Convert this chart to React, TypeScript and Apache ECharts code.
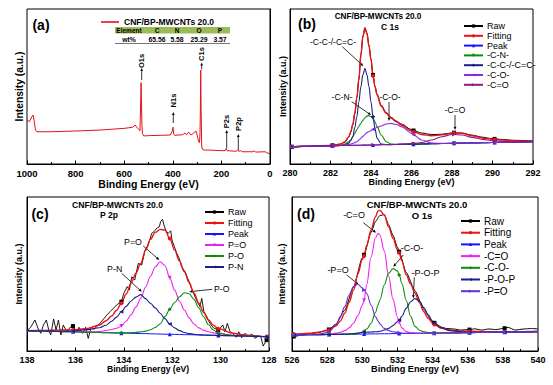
import React, { useEffect, useRef } from "react";
import * as echarts from "echarts";

const FONT = "'Liberation Sans', Arial, Helvetica, sans-serif";

// ---------- (a) survey spectrum ----------
const surveyBE = [1000, 990, 980, 975, 970, 965, 960, 900, 800, 700, 600, 565, 555, 548, 540, 535, 532, 530.5, 529, 527, 525, 520, 500, 450, 410, 402, 399, 396, 392, 360, 350, 343, 335, 325, 315, 305, 300, 295, 290, 288, 286.5, 285, 283.5, 281, 278, 270, 250, 200, 185, 180, 177, 140, 133, 130, 120, 115, 70, 65, 60, 20, 15, 0];
const surveyI = [28.4, 27.3, 30.5, 31.6, 27.3, 21.9, 20.8, 20.8, 21.3, 21.9, 23, 23.7, 25.2, 23.7, 22.4, 21.5, 41.3, 52.5, 40, 25, 19.8, 18.1, 18.3, 18.5, 18.7, 21.3, 23.7, 19.1, 18.5, 18.9, 19.9, 18.9, 20.6, 18.7, 19.9, 21.3, 18.7, 15.5, 13.7, 20, 35, 60.6, 35, 11, 9.5, 9.0, 9.0, 8.6, 8.6, 10.1, 8.6, 8.2, 9.0, 8.2, 8.6, 7.9, 7.9, 8.6, 7.7, 7.9, 7.4, 6.5];
const surveyPeaks = ["O1s", "N1s", "C1s", "P2s", "P2p"];
const tableHead = ["Element", "C", "N", "O", "P"];
const tableRow = ["wt%", "65.56", "5.58", "25.29", "3.57"];

// ---------- (b) C 1s ----------
const bX = [280, 280.1, 281, 282, 282.1, 282.5, 282.7, 282.9, 283, 283.1, 283.2, 283.3, 283.4, 283.5, 283.6, 283.7, 283.8, 283.9, 284, 284.1, 284.2, 284.3, 284.5, 284.75, 285, 285.25, 285.5, 286, 286.1, 286.5, 287, 287.5, 288, 288.1, 288.5, 289, 289.5, 290, 290.1, 291, 292];
const bRaw = [11.0, 11.0, 11.4, 12.0, 12.1, 12.8, 14.0, 17.2, 20.6, 25.2, 32.5, 42.8, 54.8, 70.5, 82.5, 88.0, 84.5, 76.5, 67.5, 57.5, 50, 45, 38, 33.2, 30, 27.7, 25.8, 22.2, 21.6, 20.0, 19.0, 19.2, 20.0, 20.2, 19.9, 18.6, 17.3, 16.3, 16.2, 15.3, 14.9];
const bFit = [11.2, 11.2, 11.5, 12.0, 12.1, 12.9, 14.2, 17.5, 20.8, 25.5, 32.7, 42.5, 54.2, 70, 82, 87.5, 84, 76, 67.1, 57, 49.5, 44.5, 37.4, 32.7, 29.5, 27.2, 25.2, 21.3, 20.7, 19.0, 18.2, 18.8, 19.8, 20.0, 19.8, 18.2, 16.8, 15.9, 15.8, 15.0, 14.6];
const bBase = [11.2, 11.2, 11.5, 11.7, 11.8, 11.9, 11.9, 12.0, 12.0, 12.0, 12.1, 12.1, 12.1, 12.1, 12.2, 12.2, 12.2, 12.2, 12.3, 12.3, 12.3, 12.3, 12.4, 12.5, 12.5, 12.6, 12.7, 12.8, 12.8, 12.9, 13.1, 13.2, 13.3, 13.4, 13.5, 13.6, 13.7, 13.9, 13.9, 14.1, 14.4];
const bCN = [11.2, 11.2, 11.5, 11.7, 11.8, 12.0, 12.9, 14.3, 15.5, 17.5, 19.8, 22.2, 24.4, 26.3, 28.2, 29.8, 30.9, 31.2, 30.6, 29.5, 27, 24.1, 18.7, 14.4, 12.9, 12.6, 12.7, 12.8, 12.8, 12.9, 13.1, 13.2, 13.3, 13.4, 13.5, 13.6, 13.7, 13.9, 13.9, 14.1, 14.4];
const bCC = [11.2, 11.2, 11.5, 11.7, 11.8, 11.9, 12.3, 13.4, 15.2, 17.6, 23.5, 30.5, 40, 49.9, 57.5, 61.7, 57.5, 49.9, 40, 30.5, 22.5, 16.6, 12.9, 12.5, 12.5, 12.6, 12.7, 12.8, 12.8, 12.9, 13.1, 13.2, 13.3, 13.4, 13.5, 13.6, 13.7, 13.9, 13.9, 14.1, 14.4];
const bCO = [11.2, 11.2, 11.5, 11.7, 11.8, 11.9, 12.2, 12.6, 12.9, 13.3, 13.7, 14.4, 15.4, 16.6, 17.8, 19, 20.3, 21, 21.5, 22.4, 23.1, 23.7, 24.5, 25.8, 26.2, 25.5, 24.1, 19.8, 18.9, 15.5, 13.5, 13.3, 13.4, 13.4, 13.5, 13.6, 13.7, 13.9, 13.9, 14.1, 14.4];
const bCdO = [11.2, 11.2, 11.5, 11.7, 11.8, 11.9, 11.9, 12.0, 12.0, 12.0, 12.1, 12.1, 12.1, 12.1, 12.2, 12.2, 12.2, 12.2, 12.3, 12.3, 12.3, 12.3, 12.5, 12.6, 12.6, 12.7, 12.8, 13.2, 13.3, 13.9, 15.5, 17.6, 19.0, 19.1, 18.7, 17.2, 15.9, 15.0, 14.9, 14.3, 14.5];
const bMarks = [280.1, 282.1, 284.1, 286.1, 288.1, 290.1];

// ---------- (c) P 2p ----------
const cRawX = [138, 137.85, 137.67, 137.55, 137.43, 137.32, 137.2, 137.1, 137.02, 136.9, 136.8, 136.7, 136.6, 136.5, 136.35, 136.22, 136.1, 135.95, 135.85, 135.7, 135.58, 135.47, 135.35, 135.23, 135.05, 134.87, 134.7, 134.57, 134.43, 134.3, 134.1, 134.0, 133.86, 133.77, 133.67, 133.55, 133.4, 133.26, 133.12, 132.99, 132.85, 132.75, 132.64, 132.53, 132.48, 132.4, 132.34, 132.26, 132.16, 132.06, 132.01, 131.91, 131.81, 131.71, 131.61, 131.47, 131.33, 131.2, 131.06, 130.96, 130.85, 130.78, 130.69, 130.57, 130.44, 130.3, 130.1, 130.02, 129.91, 129.82, 129.72, 129.61, 129.5, 129.36, 129.25, 129.13, 128.99, 128.86, 128.71, 128.58, 128.44, 128.34, 128.24, 128.1, 128.04];
const cRawY = [13.2, 15.4, 20.1, 14.9, 11.5, 16.9, 20.1, 13.6, 10.4, 20.8, 13.6, 20.1, 10.4, 16.9, 12.5, 15.4, 16.2, 12.5, 15.4, 11.5, 15.4, 8.2, 15.4, 14.1, 16.9, 20.1, 23.4, 25.5, 27.7, 29.9, 32, 37.5, 41.8, 39.6, 48.2, 46.1, 56.9, 55.8, 65.6, 68.8, 76.4, 77.5, 79.7, 80.7, 84, 85.5, 81.8, 78.1, 76.4, 78.1, 72.1, 67.7, 63.4, 60.2, 54.7, 51.5, 46.1, 40.7, 35.3, 32, 28.8, 34.2, 25.5, 22.3, 18, 15.1, 13.6, 14.7, 16.9, 12.5, 18, 12.5, 11.5, 8.9, 12.5, 8.6, 11.5, 9.3, 11, 8.2, 9.7, 9.3, 3.2, 7.1, 9.3];
const cX = [138, 137.5, 137, 136.5, 136.1, 135.5, 135, 134.75, 134.5, 134.3, 134.1, 133.9, 133.7, 133.5, 133.3, 133.1, 132.9, 132.7, 132.5, 132.3, 132.1, 131.9, 131.7, 131.5, 131.3, 131.1, 130.9, 130.7, 130.5, 130.3, 130.1, 129.5, 129, 128.5, 128.1, 128];
const cFit = [13.2, 13.3, 13.5, 13.6, 13.7, 14.6, 16.9, 19.5, 22.7, 26.5, 31, 37, 44, 50.6, 56.9, 65.5, 72.5, 77, 79, 78.5, 73, 65.5, 58.5, 51.5, 44.5, 37.5, 31, 25, 20.1, 16.8, 14.5, 11.5, 10.4, 9.7, 9.3, 9.3];
const cBase = [13.2, 13.0, 12.8, 12.6, 12.5, 12.2, 12.0, 11.9, 11.8, 11.7, 11.6, 11.6, 11.5, 11.4, 11.3, 11.3, 11.2, 11.1, 11.0, 10.9, 10.9, 10.8, 10.7, 10.6, 10.6, 10.5, 10.4, 10.3, 10.2, 10.2, 10.1, 9.9, 9.7, 9.5, 9.3, 9.3];
const cPdO = [13.2, 13.0, 12.8, 12.6, 12.5, 12.4, 12.6, 13.3, 14.0, 14.8, 16.2, 19.5, 23.5, 28.5, 34.2, 41.5, 48.5, 54.5, 58, 55.5, 47.5, 39.5, 32.5, 26.6, 21.5, 17.5, 15, 13.4, 12.5, 11.8, 11.2, 10.2, 9.8, 9.5, 9.3, 9.3];
const cPO = [13.2, 13.0, 12.8, 12.6, 12.5, 12.2, 12.0, 11.9, 11.8, 11.8, 11.8, 11.8, 11.9, 12.1, 12.4, 12.9, 13.8, 15.3, 17.5, 22.3, 27.1, 31.5, 35.2, 37.8, 37.2, 33.5, 28, 22.2, 17, 13.6, 11.6, 10.1, 9.8, 9.5, 9.3, 9.3];
const cPN = [13.2, 13.0, 12.9, 12.8, 13.0, 13.9, 15.1, 16.7, 19.3, 22, 25.5, 29, 32.5, 35, 36.6, 34, 31, 28, 24.5, 21, 17.5, 15, 13.2, 12, 11.3, 10.9, 10.6, 10.4, 10.3, 10.2, 10.1, 9.9, 9.7, 9.5, 9.3, 9.3];
const cMarks = [136.1, 134.1, 132.1, 130.1, 128.1];

// ---------- (d) O 1s ----------
const dRawX = [526, 526.1, 526.5, 527, 527.5, 528, 528.1, 528.5, 529, 529.5, 530, 530.1, 530.5, 530.75, 531, 531.25, 531.5, 531.75, 532, 532.1, 532.5, 533, 533.5, 534, 534.1, 534.5, 534.8, 535.2, 535.6, 536, 536.1, 536.4, 536.8, 537.2, 537.6, 538, 538.1, 538.3, 538.7, 539.2, 539.6, 540];
const dRawY = [9.3, 9.4, 10.2, 11.0, 12.0, 13.6, 14.0, 17.5, 26.5, 41.5, 60.5, 62.5, 77, 84, 88, 88.5, 82, 75, 67.5, 64.5, 51, 39, 27, 19, 18.3, 15.5, 14.6, 14.3, 13.6, 13.9, 13.9, 14.4, 13.6, 14.3, 13.9, 14.6, 14.8, 15.3, 13.6, 14.3, 14.6, 14.3];
const dX = [526, 526.1, 526.5, 527, 527.5, 528, 528.1, 528.5, 528.75, 529, 529.25, 529.5, 529.75, 530, 530.1, 530.25, 530.5, 530.75, 530.9, 531, 531.25, 531.5, 531.75, 532, 532.1, 532.25, 532.5, 532.75, 533, 533.25, 533.5, 533.75, 534, 534.1, 534.5, 535, 535.5, 536, 536.1, 537, 538, 538.1, 539, 540];
const dFit = [11.0, 11.0, 11.2, 11.5, 12.2, 13.2, 13.5, 16.2, 19.5, 24.5, 31.5, 39.6, 50, 59.5, 61.7, 68.5, 78.6, 87.2, 91.0, 91.3, 88.5, 80.7, 73.2, 65.6, 63.8, 58.5, 49.4, 43.5, 37.5, 31.5, 25.5, 21.3, 18.0, 17.2, 14.7, 13.6, 13.1, 12.8, 12.8, 12.6, 12.5, 12.5, 12.6, 12.8];
const dBase = [10.4, 10.4, 10.5, 10.6, 10.6, 10.7, 10.7, 10.8, 10.8, 10.9, 10.9, 10.9, 11.0, 11.0, 11.0, 11.0, 11.1, 11.1, 11.1, 11.2, 11.2, 11.2, 11.3, 11.3, 11.3, 11.3, 11.4, 11.4, 11.5, 11.5, 11.5, 11.6, 11.6, 11.6, 11.7, 11.8, 11.8, 11.9, 11.9, 12.1, 12.2, 12.2, 12.4, 12.5];
const dCdO = [10.4, 10.4, 10.5, 10.6, 10.6, 10.8, 10.9, 11.6, 12.2, 13.2, 15, 18, 23, 29.5, 33, 43, 61, 73.5, 76.4, 75.5, 65, 48.5, 33.5, 22, 18.5, 15, 12.6, 11.9, 11.6, 11.5, 11.5, 11.6, 11.6, 11.6, 11.7, 11.8, 11.8, 11.9, 11.9, 12.1, 12.2, 12.2, 12.4, 12.5];
const dCO = [10.4, 10.4, 10.5, 10.6, 10.6, 10.7, 10.7, 10.8, 10.8, 10.9, 10.9, 10.9, 11.3, 12.3, 12.9, 14.3, 18, 25, 30, 33.1, 42.9, 50.4, 53.5, 52, 49.4, 44, 33, 22.5, 16, 13.5, 12.5, 12, 11.8, 11.7, 11.7, 11.8, 11.8, 11.9, 11.9, 12.1, 12.2, 12.2, 12.4, 12.5];
const dPOP = [10.4, 10.4, 10.5, 10.6, 10.6, 10.7, 10.7, 10.8, 10.9, 11.0, 11.1, 11.3, 11.6, 12.0, 12.1, 12.2, 12.3, 12.5, 12.6, 12.8, 13.6, 14.7, 16.5, 19, 20.1, 22.5, 27.7, 32, 34, 32.5, 28.2, 23.5, 19.5, 18.2, 15.1, 13.2, 12.6, 12.2, 12.2, 12.1, 12.2, 12.2, 12.4, 12.5];
const dPdO = [10.4, 10.4, 10.5, 10.7, 11.0, 11.9, 12.3, 16.9, 22.3, 28.8, 36.4, 41.8, 43.3, 41, 39.6, 37.5, 29.9, 22.3, 19.5, 17.5, 14.7, 13.2, 12.5, 12.0, 11.9, 11.6, 11.5, 11.4, 11.5, 11.5, 11.5, 11.6, 11.6, 11.6, 11.7, 11.8, 11.8, 11.9, 11.9, 12.1, 12.2, 12.2, 12.4, 12.5];
const dMarks = [526.1, 528.1, 530.1, 532.1, 534.1, 536.1, 538.1];

const BLACK = "#000000", RED = "#ee1111", BLUE = "#1515ff", GREEN = "#0c8c0c", NAVY = "#1c1c8a", MAGENTA = "#f020f0", VIOLET = "#8a2be2", PURPLE = "#8b1a8b", VIOLET2 = "#6a30d0";

function ser(name: string, g: number, xs: number[], ys: number[], marks: number[], color: string, symbol: string, rot = 0, width = 1, smooth: any = 0.35) {
  return {
    type: "line", name, xAxisIndex: g, yAxisIndex: g, smooth, smoothMonotone: "x",
    data: xs.map((x, i) => (marks.some((m) => Math.abs(m - x) < 1e-6) ? { value: [x, ys[i]] } : { value: [x, ys[i]], symbol: "none" })),
    symbol, symbolSize: 4, symbolRotate: rot, showSymbol: true, showAllSymbol: true,
    lineStyle: { color, width }, itemStyle: { color }, emphasis: { disabled: true }, silent: true,
  };
}

function txt(text: string, x: number, y: number, size: number, bold = false, rot = 0) {
  return {
    type: "text", x, y, rotation: rot, silent: true,
    style: { text, fontSize: size, fontWeight: bold ? "bold" : "normal", fontFamily: FONT, fill: "#000", align: "center", verticalAlign: "middle" },
  };
}

function arrow(x1: number, y1: number, x2: number, y2: number, head = 3.2) {
  const a = Math.atan2(y2 - y1, x2 - x1);
  const bx = x2 - head * Math.cos(a), by = y2 - head * Math.sin(a);
  const px = -Math.sin(a) * head * 0.45, py = Math.cos(a) * head * 0.45;
  return [
    { type: "line", silent: true, shape: { x1, y1, x2: bx, y2: by }, style: { stroke: "#000", lineWidth: 0.8 } },
    { type: "polygon", silent: true, shape: { points: [[x2, y2], [bx + px, by + py], [bx - px, by - py]] }, style: { fill: "#000" } },
  ];
}

const grids = [
  { left: 27, top: 9, width: 243, height: 155 },
  { left: 290, top: 9, width: 243, height: 155 },
  { left: 27, top: 197, width: 242, height: 154 },
  { left: 292, top: 197, width: 246, height: 154 },
];

function xAxis(g: number, min: number, max: number, interval: number, inverse: boolean, labelSize: number, nameSize: number, nameGap: number) {
  return {
    type: "value", gridIndex: g, min, max, interval, inverse,
    axisLine: { show: true, onZero: false, lineStyle: { color: "#000", width: 1 } },
    axisTick: { show: true, inside: true, length: 3.5, lineStyle: { color: "#000", width: 1 } },
    minorTick: { show: true, splitNumber: 2, length: 2, lineStyle: { color: "#000", width: 1 } },
    splitLine: { show: false },
    axisLabel: { color: "#000", fontSize: labelSize, fontWeight: "bold", fontFamily: FONT, margin: 4, formatter: (v: number) => String(v) },
    name: "Binding Energy (eV)", nameLocation: "middle", nameGap,
    nameTextStyle: { color: "#000", fontSize: nameSize, fontWeight: "bold", fontFamily: FONT },
  };
}
function yAxis(g: number, nameSize: number, nameGap: number) {
  return {
    type: "value", gridIndex: g, min: 0, max: 100,
    axisLine: { show: true, lineStyle: { color: "#000", width: 1 } },
    axisTick: { show: false }, axisLabel: { show: false }, splitLine: { show: false },
    name: "Intensity (a.u.)", nameLocation: "middle", nameGap,
    nameTextStyle: { color: "#000", fontSize: nameSize, fontWeight: "bold", fontFamily: FONT },
  };
}

function legend(names: string[], left: number, top: number, size: number, lh: number, gap: number) {
  return {
    orient: "vertical", left, top, itemWidth: 19, itemHeight: 4, itemGap: gap, selectedMode: false,
    data: names, formatter: (n: string) => n.slice(2),
    textStyle: { color: "#000", fontSize: size, lineHeight: lh, fontFamily: FONT, padding: [0, 0, 0, -1] },
  };
}

const bNames = ["Raw", "Fitting", "Peak", "-C-N-", "-C-C-/-C=C-", "-C-O-", "-C=O"].map((n) => "b|" + n);
const cNames = ["Raw", "Fitting", "Peak", "P=O", "P-O", "P-N"].map((n) => "c|" + n);
const dNames = ["Raw", "Fitting", "Peak", "-C=O", "-C-O-", "-P-O-P", "-P=O"].map((n) => "d|" + n);

const series: any[] = [
  {
    type: "line", name: "CNF/BP-MWCNTs 20.0", xAxisIndex: 0, yAxisIndex: 0, symbol: "none", silent: true,
    data: surveyBE.map((x, i) => [x, surveyI[i]]), lineStyle: { color: "#e3121b", width: 1 }, itemStyle: { color: "#e3121b" },
  },
  ser(bNames[0], 1, bX, bRaw, bMarks, BLACK, "rect", 0, 1),
  ser(bNames[1], 1, bX, bFit, bMarks, RED, "circle", 0, 1.4),
  ser(bNames[2], 1, bX, bBase, bMarks, BLUE, "triangle", 0, 1),
  ser(bNames[3], 1, bX, bCN, bMarks, GREEN, "triangle", 180, 1.1),
  ser(bNames[4], 1, bX, bCC, bMarks, NAVY, "diamond", 0, 1.1),
  ser(bNames[5], 1, bX, bCO, bMarks, VIOLET, "triangle", 90, 1.1),
  ser(bNames[6], 1, bX, bCdO, bMarks, PURPLE, "triangle", -90, 1.1),

  ser(cNames[0], 2, cRawX, cRawY, cMarks, BLACK, "rect", 0, 0.9, false),
  ser(cNames[1], 2, cX, cFit, cMarks, RED, "circle", 0, 1.4),
  ser(cNames[2], 2, cX, cBase, cMarks, BLUE, "triangle", 0, 1),
  ser(cNames[3], 2, cX, cPdO, cMarks, MAGENTA, "triangle", 180, 1.1),
  ser(cNames[4], 2, cX, cPO, cMarks, GREEN, "diamond", 0, 1.1),
  ser(cNames[5], 2, cX, cPN, cMarks, NAVY, "triangle", 90, 1.1),

  ser(dNames[0], 3, dRawX, dRawY, dMarks, BLACK, "rect", 0, 1, 0.2),
  ser(dNames[1], 3, dX, dFit, dMarks, RED, "circle", 0, 1.4),
  ser(dNames[2], 3, dX, dBase, dMarks, BLUE, "triangle", 0, 1),
  ser(dNames[3], 3, dX, dCdO, dMarks, MAGENTA, "triangle", 180, 1.1),
  ser(dNames[4], 3, dX, dCO, dMarks, GREEN, "diamond", 0, 1.1),
  ser(dNames[5], 3, dX, dPOP, dMarks, NAVY, "triangle", 90, 1.1),
  ser(dNames[6], 3, dX, dPdO, dMarks, VIOLET2, "triangle", -90, 1.1),
];

const peakPos = [[141.7, 61, 80, 68], [173.3, 100.5, 123, 112], [201.7, 54, 69.5, 62.5], [226.7, 121.5, 148, 130], [238.3, 124, 150, 134]];
const colX = [129, 157, 177, 199, 220];

const graphic: any[] = [
  // panel letters
  txt("(a)", 41, 25, 14, true), txt("(b)", 307, 24, 14, true), txt("(c)", 40, 214, 14, true), txt("(d)", 306, 214, 14, true),
  // titles
  txt("CNF/BP-MWCNTs 20.0", 378, 16, 8.2, true), txt("C 1s", 390, 27, 8.5, true),
  txt("CNF/BP-MWCNTs 20.0", 117.5, 205, 8.6, true), txt("P 2p", 109, 215, 8.6, true),
  txt("CNF/BP-MWCNTs 20.0", 417, 204, 9.5, true), txt("O 1s", 422, 215, 9.5, true),
  // table (a)
  { type: "rect", silent: true, shape: { x: 115, y: 27, width: 115, height: 6.5 }, style: { fill: "#9bbb59" } },
  { type: "line", silent: true, shape: { x1: 115, y1: 43.5, x2: 230, y2: 43.5 }, style: { stroke: "#555", lineWidth: 0.8 } },
  ...tableHead.map((t, i) => txt(t, colX[i], 30.5, 6.5, true)),
  ...tableRow.map((t, i) => txt(t, colX[i], 39, 6.8, true)),
  // survey peak labels
  ...surveyPeaks.flatMap((p, i) => [txt(p, peakPos[i][0], peakPos[i][1], 7.5, true, Math.PI / 2), ...arrow(peakPos[i][0], peakPos[i][2], peakPos[i][0], peakPos[i][3], 3)]),
  // (b) annotations
  txt("-C-C-/-C=C-", 333, 42, 8.5), ...arrow(342.3, 46.7, 363.3, 66),
  txt("-C-N-", 342, 97.3, 8.5), ...arrow(351.7, 101.7, 371, 115),
  txt("-C-O-", 390, 97.3, 8.5), ...arrow(389, 102, 389, 121),
  txt("-C=O", 455, 110, 8.5), ...arrow(455, 115, 455, 130),
  // (c) annotations
  txt("P=O", 133, 241.7, 8.8), ...arrow(143.3, 246, 159.3, 260),
  txt("P-N", 114.7, 269.3, 8.8), ...arrow(121.7, 273.3, 141.7, 291.7),
  txt("P-O", 221.7, 289.3, 8.8), ...arrow(212.3, 289.3, 189.3, 291.7),
  // (d) annotations
  txt("-C=O", 354, 215, 9), ...arrow(363.3, 222.7, 376, 232.7),
  txt("-C-O-", 412, 248.3, 9), ...arrow(403.3, 255, 393.3, 266.7),
  txt("-P=O", 338, 270, 9), ...arrow(346.7, 275, 358.3, 284.3),
  txt("-P-O-P", 425.5, 272.7, 9), ...arrow(414.3, 277.3, 413.3, 298.3),
];

const option: any = {
  animation: false,
  backgroundColor: "#fff",
  grid: grids.map((g) => ({ ...g, show: true, borderColor: "#000", borderWidth: 1, backgroundColor: "transparent" })),
  xAxis: [
    xAxis(0, 0, 1000, 200, true, 9.5, 10.5, 14),
    xAxis(1, 280, 292, 2, false, 9, 9, 13),
    xAxis(2, 128, 138, 2, true, 9, 8.6, 13),
    xAxis(3, 526, 540, 2, false, 9, 9.2, 13),
  ],
  yAxis: [yAxis(0, 10.3, 3), yAxis(1, 9, 3), yAxis(2, 9, 4), yAxis(3, 9, 6)],
  legend: [
    {
      left: 96, top: 12.5, itemWidth: 18, itemHeight: 1.6, icon: "rect", selectedMode: false, data: ["CNF/BP-MWCNTs 20.0"],
      textStyle: { color: "#000", fontSize: 8.5, fontWeight: "bold", lineHeight: 9, fontFamily: FONT },
    },
    legend(bNames, 458, 16.5, 9, 9, 0.8),
    legend(cNames, 199, 202, 9, 10, 1),
    legend(dNames, 455, 210.5, 10, 11, 0.7),
  ],
  series,
  graphic,
};

export default function App() {
  const ref = useRef<HTMLDivElement>(null);
  useEffect(() => {
    const chart = echarts.init(ref.current as HTMLDivElement, null, { renderer: "svg" });
    chart.setOption(option);
    return () => chart.dispose();
  }, []);
  return <div ref={ref} style={{ position: "fixed", left: 0, top: 0, width: 553, height: 385, background: "#fff" }} />;
}
